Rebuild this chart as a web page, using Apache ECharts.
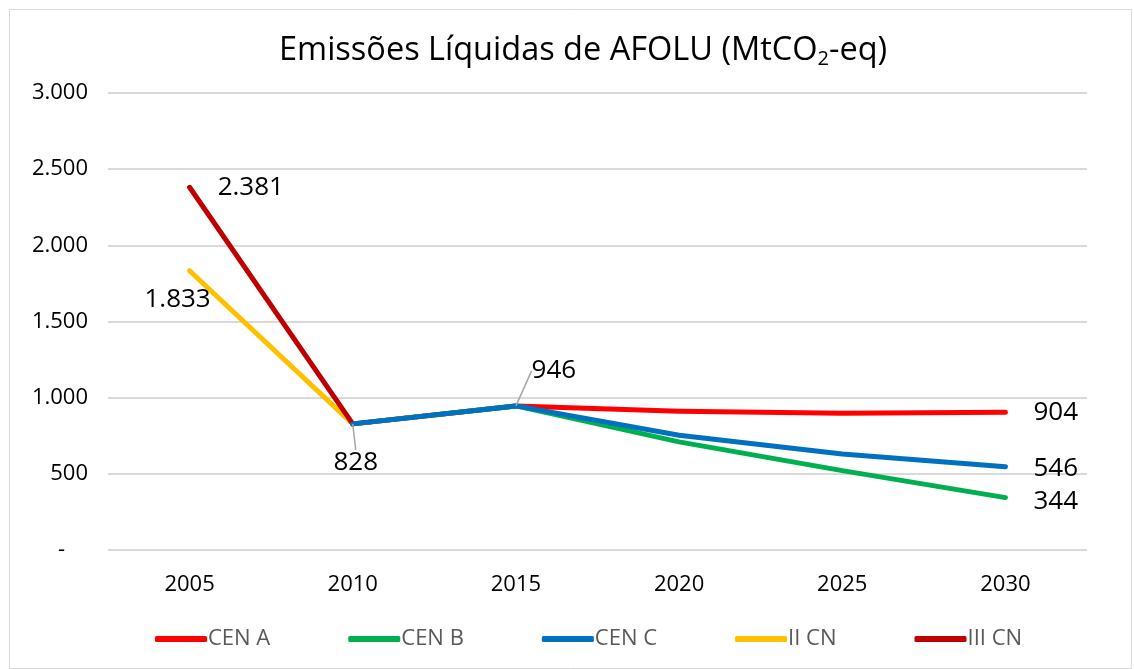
<!DOCTYPE html>
<html>
<head>
<meta charset="utf-8" />
<title>Emissões Líquidas de AFOLU</title>
<script src="https://cdn.jsdelivr.net/npm/echarts@6/dist/echarts.min.js"></script>
<style>
  html, body { margin: 0; padding: 0; background: #fff; }
  #chart { width: 1134px; height: 669px; }
</style>
</head>
<body>
<div id="chart"></div>
<script>
// anos e valores
var anos = ['2005', '2010', '2015', '2020', '2025', '2030'];
var cenA = [null, 828, 946, 911, 898, 904];
var cenB = [null, 828, 946, 710, 521, 344];
var cenC = [null, 828, 946, 753, 630, 546];
var iiCN = [1833, 828, null, null, null, null];
var iiiCN = [2381, 828, null, null, null, null];
var yTicks = { min: 0, max: 3000, interval: 500 };

var FONT = '"Open Sans", "Noto Sans", sans-serif';

function fmt(v) {
  if (v === 0) return '-';
  return String(v).replace(/\B(?=(\d{3})+(?!\d))/g, '.');
}

var baseLabel = { show: false, color: '#000', fontSize: 26, fontFamily: FONT, formatter: function (p) { return fmt(p.value); } };

function withLabel(arr, idx, cfg) {
  return arr.map(function (v, i) {
    if (i === idx) return { value: v, label: Object.assign({ show: true }, cfg) };
    return v;
  });
}

function mkSeries(name, color, data) {
  return {
    name: name, type: 'line', data: data,
    symbol: 'circle', symbolSize: 0.1, showSymbol: true,
    lineStyle: { width: 5, color: color, cap: 'round', join: 'round' },
    itemStyle: { color: color },
    label: baseLabel,
    emphasis: { disabled: true },
    connectNulls: false
  };
}

var dA = withLabel(cenA, 5, { position: 'right', distance: 28 });
var dB = withLabel(cenB, 5, { position: 'right', distance: 28, offset: [0, 4] });
var dC = withLabel(cenC, 5, { position: 'right', distance: 28, offset: [0, 2] });
// rótulos comuns 2010 / 2015 com linha de chamada
var dLead = cenC.map(function (v, i) {
  if (i === 1) return { value: v, label: { show: true, position: 'bottom', distance: 0 } };
  if (i === 2) return { value: v, label: { show: true, position: 'top', distance: 0 } };
  return { value: v, label: { show: false } };
});
var dII = withLabel(iiCN, 0, { position: 'bottom', distance: 16, offset: [-12, 0] });
var dIII = withLabel(iiiCN, 0, { position: 'right', distance: 28 });

var sA = mkSeries('CEN A', '#ff0000', dA);
var sB = mkSeries('CEN B', '#00b050', dB);
var sC = mkSeries('CEN C', '#0070c0', dC);
var sII = mkSeries('II CN', '#ffc000', dII);
var sIII = mkSeries('III CN', '#c00000', dIII);
var sLead = {
  name: 'lead', type: 'line', data: dLead,
  symbol: 'circle', symbolSize: 0.1, showSymbol: true,
  lineStyle: { color: 'transparent', width: 0 }, itemStyle: { color: 'transparent' },
  label: Object.assign({}, baseLabel, { color: '#000' }),
  labelLine: { show: true, lineStyle: { color: '#a6a6a6', width: 1.5 } },
  labelLayout: function (p) {
    if (p.dataIndex === 1) return { dx: 3, dy: 26 };
    if (p.dataIndex === 2) return { dx: 38, dy: -22 };
    return {};
  },
  emphasis: { disabled: true }, silent: true, z: 4
};

var chart = echarts.init(document.getElementById('chart'), null, { renderer: 'canvas' });
chart.setOption({
  animation: false,
  backgroundColor: '#fff',
  graphic: [{
    type: 'rect', left: 7, top: 7,
    shape: { width: 1122, height: 659 },
    style: { fill: 'none', stroke: '#d9d9d9', lineWidth: 1 },
    silent: true
  }],
  title: {
    text: 'Emissões Líquidas de AFOLU (MtCO{s|2}-eq)',
    left: 274, top: 28,
    textStyle: {
      color: '#000', fontSize: 32.5, fontWeight: 'normal', fontFamily: FONT,
      rich: { s: { fontSize: 20, fontFamily: FONT, color: '#000', padding: [16, 0, 0, 0] } }
    }
  },
  legend: {
    bottom: 14, left: 150,
    itemWidth: 52, itemHeight: 6, itemGap: 78,
    icon: 'roundRect',
    textStyle: { color: '#595959', fontSize: 22, fontFamily: FONT, padding: [0, 0, 0, -4] },
    data: ['CEN A', 'CEN B', 'CEN C', 'II CN', 'III CN']
  },
  grid: { left: 108, right: 47, top: 93, bottom: 119, containLabel: false },
  xAxis: {
    type: 'category', data: anos, boundaryGap: true,
    axisLine: { show: false }, axisTick: { show: false },
    axisLabel: { color: '#000', fontSize: 22, fontFamily: FONT, margin: 24 }
  },
  yAxis: {
    type: 'value', min: yTicks.min, max: yTicks.max, interval: yTicks.interval,
    axisLine: { show: false }, axisTick: { show: false },
    splitLine: { lineStyle: { color: '#d9d9d9', width: 2 } },
    axisLabel: {
      color: '#000', fontSize: 22, fontFamily: FONT, margin: 20,
      formatter: function (v) { return v === 0 ? '-    ' : fmt(v); }
    }
  },
  series: [sA, sB, sII, sIII, sC, sLead]
});
</script>
</body>
</html>
